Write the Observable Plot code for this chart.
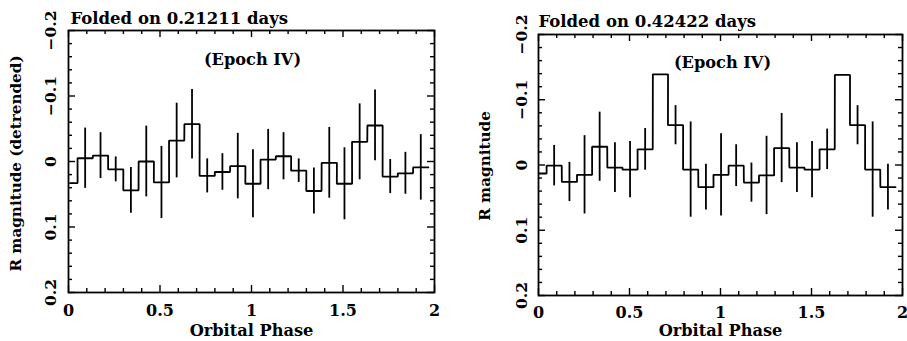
<!DOCTYPE html>
<html><head><meta charset="utf-8">
<script src="https://cdn.jsdelivr.net/npm/d3@7"></script>
<script src="https://cdn.jsdelivr.net/npm/@observablehq/plot@0.6"></script>
<style>
html,body{margin:0;padding:0;background:#fff;}
#wrap{position:relative;width:907px;height:341px;overflow:hidden;background:#fff;}
#wrap svg{position:absolute;top:0;}
</style></head><body><div id="wrap"></div>
<script>
// ---- data: left panel (folded on 0.21211 d) ----
const phaseLeft = [0.008, 0.091, 0.175, 0.258, 0.341, 0.425, 0.508, 0.591, 0.675, 0.758, 0.841, 0.925,
                   1.008, 1.091, 1.175, 1.258, 1.341, 1.425, 1.508, 1.591, 1.675, 1.758, 1.841, 1.925];
const magLeft = [0.033, -0.005, -0.009, 0.012, 0.044, 0.000, 0.032, -0.032, -0.057, 0.022, 0.016, 0.007,
                 0.034, -0.003, -0.008, 0.014, 0.045, 0.002, 0.034, -0.030, -0.055, 0.023, 0.018, 0.009];
const errLeft = [null, 0.046, 0.035, 0.019, 0.035, 0.054, 0.055, 0.057, 0.053, 0.026, 0.028, 0.050,
                 0.052, 0.046, 0.036, 0.018, 0.035, 0.054, 0.055, 0.058, 0.054, 0.026, 0.032, 0.050];
// ---- data: right panel (folded on 0.42422 d) ----
const phaseRight = [0.003, 0.086, 0.170, 0.253, 0.336, 0.420, 0.503, 0.586, 0.670, 0.753, 0.836, 0.920,
                    1.003, 1.086, 1.170, 1.253, 1.336, 1.420, 1.503, 1.586, 1.670, 1.753, 1.836, 1.920];
const magRight = [0.013, 0.001, 0.026, 0.015, -0.028, 0.004, 0.007, -0.024, -0.139, -0.061, 0.007, 0.034,
                  0.015, 0.001, 0.027, 0.016, -0.026, 0.004, 0.007, -0.024, -0.138, -0.061, 0.007, 0.034];
const errRight = [null, 0.031, 0.030, 0.060, 0.053, 0.038, 0.043, 0.032, null, 0.030, 0.073, 0.035,
                  0.063, 0.032, 0.030, 0.060, 0.053, 0.038, 0.043, 0.031, null, 0.030, 0.073, 0.035];
const binWidth = 1 / 12;

// ---- text / ticks ----
const titleLeft = "Folded on 0.21211 days";
const titleRight = "Folded on 0.42422 days";
const epochLabel = "(Epoch IV)";
const yLabelLeft = "R magnitude (detrended)";
const yLabelRight = "R magnitude";
const xLabel = "Orbital Phase";
const xTickValues = [0, 0.5, 1, 1.5, 2];
const xTickLabels = ["0", "0.5", "1", "1.5", "2"];
const yTickValues = [-0.2, -0.1, 0, 0.1, 0.2];
const yTickLabels = ["\u22120.2", "\u22120.1", "0", "0.1", "0.2"];

const FONT = "DejaVu Serif";
const SW = 1.8;

function panel(c) {
  const innerW = c.width - c.ml - c.mr;
  const innerH = c.height - c.mt - c.mb;
  const bins = c.phase.map((p, i) => ({phase: p, mag: c.mag[i], err: c.err[i]}));
  const steps = bins.flatMap((d, i) => [
    {x: i === 0 ? d.phase : d.phase - binWidth / 2, y: d.mag},
    {x: d.phase + binWidth / 2, y: d.mag}
  ]);
  const xMinor = d3.range(0, 21).map(k => k / 10).filter(v => !xTickValues.some(t => Math.abs(t - v) < 1e-9));
  const yMinor = d3.range(-10, 11).map(k => k / 50).filter(v => !yTickValues.some(t => Math.abs(t - v) < 1e-9));
  const major = 7, minor = 4;
  const txt = {fontFamily: FONT, fontWeight: "bold", fill: "#000"};
  return Plot.plot({
    width: c.width, height: c.height,
    marginLeft: c.ml, marginRight: c.mr, marginTop: c.mt, marginBottom: c.mb,
    style: {fontFamily: FONT, background: "#fff", overflow: "visible"},
    x: {domain: [0, 2], axis: null},
    y: {domain: [-0.2, 0.2], reverse: true, axis: null},
    marks: [
      Plot.frame({stroke: "#000", strokeWidth: SW}),
      Plot.tickY(yTickValues, {y: d => d, insetRight: innerW - major, stroke: "#000", strokeWidth: 1.4}),
      Plot.tickY(yTickValues, {y: d => d, insetLeft: innerW - major, stroke: "#000", strokeWidth: 1.4}),
      Plot.tickY(yMinor, {y: d => d, insetRight: innerW - minor, stroke: "#000", strokeWidth: 1.4}),
      Plot.tickY(yMinor, {y: d => d, insetLeft: innerW - minor, stroke: "#000", strokeWidth: 1.4}),
      Plot.tickX(xTickValues, {x: d => d, insetTop: innerH - major, stroke: "#000", strokeWidth: 1.4}),
      Plot.tickX(xTickValues, {x: d => d, insetBottom: innerH - major, stroke: "#000", strokeWidth: 1.4}),
      Plot.tickX(xMinor, {x: d => d, insetTop: innerH - minor, stroke: "#000", strokeWidth: 1.4}),
      Plot.tickX(xMinor, {x: d => d, insetBottom: innerH - minor, stroke: "#000", strokeWidth: 1.4}),
      Plot.ruleX(bins.filter(d => d.err != null), {x: "phase", y1: d => d.mag - d.err, y2: d => d.mag + d.err, stroke: "#000", strokeWidth: SW}),
      Plot.line(steps, {x: "x", y: "y", stroke: "#000", strokeWidth: SW, strokeLinejoin: "miter"}),
      Plot.text(yTickValues, {y: d => d, text: (d, i) => yTickLabels[i], frameAnchor: "left", dx: c.yTickDx, rotate: -90, textAnchor: "middle", lineAnchor: "middle", fontSize: 15.5, ...txt}),
      Plot.text(xTickValues, {x: d => d, text: (d, i) => xTickLabels[i], frameAnchor: "bottom", dy: c.xTickDy, textAnchor: "middle", lineAnchor: "middle", fontSize: 16, ...txt}),
      Plot.text([c.title], {text: d => d, frameAnchor: "top-left", dx: c.titleDx, dy: c.titleDy, textAnchor: "start", lineAnchor: "middle", fontSize: 16.5, ...txt}),
      Plot.text([epochLabel], {text: d => d, frameAnchor: "top", dx: c.epochDx, dy: c.epochDy, textAnchor: "middle", lineAnchor: "middle", fontSize: 16.2, ...txt}),
      Plot.text([c.yLabel], {text: d => d, frameAnchor: "left", dx: c.yLabelDx, dy: c.yLabelDy, rotate: -90, textAnchor: "middle", lineAnchor: "middle", fontSize: 15.2, ...txt}),
      Plot.text([xLabel], {text: d => d, frameAnchor: "bottom", dy: c.xLabelDy, textAnchor: "middle", lineAnchor: "middle", fontSize: 16.2, ...txt})
    ]
  });
}

const wrap = document.getElementById("wrap");
const left = panel({
  phase: phaseLeft, mag: magLeft, err: errLeft, title: titleLeft, yLabel: yLabelLeft,
  width: 450, height: 341, ml: 68, mr: 16, mt: 30, mb: 49,
  yTickDx: -17, xTickDy: 18, titleDx: 2, titleDy: -12, epochDx: 1, epochDy: 29,
  yLabelDx: -52, yLabelDy: 2, xLabelDy: 38.5
});
left.style.left = "0px";
const right = panel({
  phase: phaseRight, mag: magRight, err: errRight, title: titleRight, yLabel: yLabelRight,
  width: 457, height: 341, ml: 88, mr: 5, mt: 34, mb: 46,
  yTickDx: -16, xTickDy: 17, titleDx: 0, titleDy: -12.5, epochDx: 2, epochDy: 28,
  yLabelDx: -53, yLabelDy: 1, xLabelDy: 35.5
});
right.style.left = "450px";
wrap.appendChild(left);
wrap.appendChild(right);
</script>
</body></html>
